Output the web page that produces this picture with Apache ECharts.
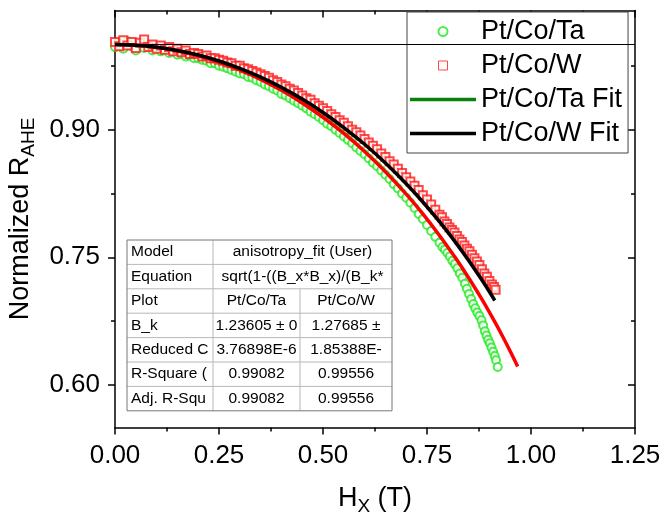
<!DOCTYPE html>
<html><head><meta charset="utf-8">
<script src="https://cdn.jsdelivr.net/npm/echarts@6/dist/echarts.min.js"></script>
<style>html,body{margin:0;padding:0;background:#fff}#c{width:664px;height:517px}</style>
</head><body><div id="c"></div>
<script>
const FONT = '"Liberation Sans", Arial, sans-serif';

const seriesNames = ['Pt/Co/Ta', 'Pt/Co/W', 'Pt/Co/Ta Fit', 'Pt/Co/W Fit'];

const taX = [0.00,0.01,0.02,0.03,0.04,0.05,0.06,0.07,0.08,0.09,0.10,0.11,0.12,0.13,0.14,0.15,0.16,0.17,0.18,0.19,0.20,0.21,0.22,0.23,0.24,0.25,0.26,0.27,0.28,0.29,0.30,0.31,0.32,0.33,0.34,0.35,0.36,0.37,0.38,0.39,0.40,0.41,0.42,0.43,0.44,0.45,0.46,0.47,0.48,0.49,0.50,0.51,0.52,0.53,0.54,0.55,0.56,0.57,0.58,0.59,0.60,0.61,0.62,0.63,0.64,0.65,0.66,0.67,0.68,0.69,0.70,0.71,0.72,0.73,0.74,0.75,0.76,0.77,0.78,0.787,0.793,0.799,0.805,0.811,0.817,0.823,0.829,0.835,0.841,0.846,0.851,0.856,0.861,0.866,0.871,0.876,0.881,0.885,0.889,0.893,0.897,0.901,0.905,0.909,0.913,0.916,0.920];
const taY = [0.997,1.002,0.995,1.004,0.998,0.993,1.001,0.996,0.999,0.993,0.996,0.992,0.994,0.990,0.992,0.988,0.989,0.986,0.987,0.984,0.984,0.982,0.981,0.978,0.978,0.975,0.974,0.972,0.970,0.968,0.966,0.965,0.962,0.961,0.958,0.956,0.953,0.951,0.948,0.946,0.942,0.940,0.937,0.934,0.931,0.928,0.925,0.921,0.918,0.915,0.911,0.907,0.904,0.900,0.896,0.892,0.888,0.884,0.879,0.875,0.871,0.866,0.861,0.857,0.852,0.847,0.842,0.836,0.831,0.825,0.820,0.814,0.808,0.801,0.795,0.788,0.781,0.774,0.767,0.762,0.759,0.755,0.751,0.746,0.742,0.737,0.731,0.726,0.719,0.713,0.707,0.701,0.695,0.690,0.685,0.681,0.676,0.670,0.663,0.658,0.653,0.649,0.644,0.639,0.634,0.629,0.621];

const wX = [0.00,0.01,0.02,0.03,0.04,0.05,0.06,0.07,0.08,0.09,0.10,0.11,0.12,0.13,0.14,0.15,0.16,0.17,0.18,0.19,0.20,0.21,0.22,0.23,0.24,0.25,0.26,0.27,0.28,0.29,0.30,0.31,0.32,0.33,0.34,0.35,0.36,0.37,0.38,0.39,0.40,0.41,0.42,0.43,0.44,0.45,0.46,0.47,0.48,0.49,0.50,0.51,0.52,0.53,0.54,0.55,0.56,0.57,0.58,0.59,0.60,0.61,0.62,0.63,0.64,0.65,0.66,0.67,0.68,0.69,0.70,0.71,0.72,0.73,0.74,0.75,0.76,0.77,0.78,0.786,0.792,0.798,0.804,0.810,0.816,0.822,0.828,0.834,0.840,0.846,0.852,0.858,0.864,0.870,0.876,0.882,0.888,0.894,0.900,0.906,0.911,0.915];
const wY = [1.003,0.998,1.005,0.999,1.003,0.996,1.002,1.006,0.997,1.000,0.995,0.999,0.994,0.997,0.992,0.995,0.991,0.993,0.989,0.990,0.989,0.986,0.987,0.984,0.984,0.982,0.981,0.979,0.978,0.975,0.975,0.972,0.971,0.969,0.967,0.965,0.963,0.961,0.958,0.956,0.953,0.951,0.948,0.946,0.943,0.940,0.937,0.935,0.931,0.928,0.925,0.922,0.918,0.915,0.911,0.908,0.904,0.900,0.897,0.893,0.889,0.885,0.881,0.877,0.872,0.868,0.863,0.859,0.854,0.849,0.844,0.839,0.834,0.829,0.823,0.818,0.812,0.806,0.800,0.797,0.792,0.789,0.785,0.782,0.779,0.775,0.771,0.768,0.764,0.760,0.757,0.753,0.749,0.745,0.741,0.736,0.731,0.727,0.722,0.718,0.715,0.712];

const taFitX = [0,0.05,0.10,0.15,0.20,0.25,0.30,0.35,0.40,0.45,0.50,0.55,0.60,0.65,0.70,0.74,0.78,0.82,0.85,0.88,0.91,0.93,0.95,0.968];
const taFitY = [1.000,0.9992,0.9967,0.9926,0.9868,0.9793,0.9701,0.9591,0.9462,0.9314,0.9145,0.8955,0.8743,0.8506,0.8242,0.8010,0.7757,0.7482,0.7260,0.7022,0.6767,0.6587,0.6397,0.6218];

const wFitX = [0,0.05,0.10,0.15,0.20,0.25,0.30,0.35,0.40,0.45,0.50,0.55,0.60,0.65,0.70,0.74,0.78,0.82,0.85,0.88,0.90,0.913];
const wFitY = [1.000,0.9992,0.9969,0.9931,0.9877,0.9807,0.9720,0.9617,0.9497,0.9359,0.9202,0.9025,0.8828,0.8608,0.8364,0.8150,0.7918,0.7666,0.7463,0.7247,0.7095,0.6992];

const refLineY = 1.0;

const xTicks = [0, 1.25, 0.25];           // min, max, interval
const yRange = [0.55, 1.04];
const yMajor = [0.60, 0.75, 0.90];
const yMinor = [0.675, 0.825, 0.975];

const tableRows = [
  ['Model', 'anisotropy_fit (User)'],
  ['Equation', 'sqrt(1-((B_x*B_x)/(B_k*'],
  ['Plot', 'Pt/Co/Ta', 'Pt/Co/W'],
  ['B_k', '1.23605 \u00b1 0', '1.27685 \u00b1'],
  ['Reduced C', '3.76898E-6', '1.85388E-'],
  ['R-Square (', '0.99082', '0.99556'],
  ['Adj. R-Squ', '0.99082', '0.99556']
];

const zip = (xs, ys) => xs.map((x, i) => [x, ys[i]]);

// table graphic
const T = {top: 240, rowH: 24.4, cols: [127, 213, 300, 392]};
const tchildren = [];
const tW = T.cols[3] - T.cols[0], tH = T.rowH * tableRows.length;
const tFont = '15.5px ' + FONT;
tchildren.push({type: 'rect', shape: {x: T.cols[0], y: T.top, width: tW, height: tH}, style: {fill: '#fff', stroke: 'none'}});
for (let r = 1; r < tableRows.length; r++) {
  tchildren.push({type: 'line', shape: {x1: T.cols[0], y1: T.top + r * T.rowH, x2: T.cols[3], y2: T.top + r * T.rowH}, style: {stroke: '#b8b8b8', lineWidth: 1}});
}
tchildren.push({type: 'line', shape: {x1: T.cols[1], y1: T.top, x2: T.cols[1], y2: T.top + tH}, style: {stroke: '#b8b8b8', lineWidth: 1}});
tchildren.push({type: 'line', shape: {x1: T.cols[2], y1: T.top + 2 * T.rowH, x2: T.cols[2], y2: T.top + tH}, style: {stroke: '#b8b8b8', lineWidth: 1}});
tchildren.push({type: 'rect', shape: {x: T.cols[0], y: T.top, width: tW, height: tH}, style: {fill: 'none', stroke: '#777', lineWidth: 1}});
const txt = (x, y, s, al) => ({type: 'text', x: x, y: y, style: {text: s, font: tFont, fill: '#000', align: al, verticalAlign: 'middle', textAlign: al, textVerticalAlign: 'middle'}});
tableRows.forEach((row, r) => {
  const cy = T.top + (r + 0.5) * T.rowH;
  tchildren.push(txt(T.cols[0] + 4, cy, row[0], 'left'));
  if (row.length === 2) {
    tchildren.push(txt((T.cols[1] + T.cols[3]) / 2, cy, row[1], 'center'));
  } else {
    tchildren.push(txt((T.cols[1] + T.cols[2]) / 2, cy, row[1], 'center'));
    tchildren.push(txt((T.cols[2] + T.cols[3]) / 2, cy, row[2], 'center'));
  }
});

const axisLineStyle = {color: '#000', width: 1.5};
const tickStyle = {color: '#000', width: 1.5};
const titleRich = {
  a: {fontSize: 27, lineHeight: 27, color: '#000', fontFamily: FONT},
  s: {fontSize: 19, lineHeight: 19, padding: [16, 0, 0, 0], color: '#000', fontFamily: FONT}
};

const chart = echarts.init(document.getElementById('c'), null, {renderer: 'canvas'});
chart.setOption({
  animation: false,
  backgroundColor: '#fff',
  textStyle: {fontFamily: FONT},
  grid: {left: 115, right: 29, top: 10.5, bottom: 89.5, containLabel: false, outerBoundsMode: 'none'},
  xAxis: [
    {type: 'value', position: 'bottom', min: xTicks[0], max: xTicks[1], interval: xTicks[2],
     axisLine: {show: true, lineStyle: axisLineStyle},
     axisTick: {show: true, inside: false, length: 7, lineStyle: tickStyle},
     minorTick: {show: true, splitNumber: 2, length: 4, lineStyle: tickStyle},
     axisLabel: {show: true, margin: 15, fontSize: 26, color: '#000', fontFamily: FONT, formatter: v => v.toFixed(2)},
     splitLine: {show: false}, minorSplitLine: {show: false},
     name: '{a|H}{s|X}{a| (T)}', nameLocation: 'middle', nameGap: 58,
     nameTextStyle: {color: '#000', fontFamily: FONT, rich: titleRich}},
    {type: 'value', position: 'top', min: xTicks[0], max: xTicks[1], interval: xTicks[2],
     axisLine: {show: true, lineStyle: axisLineStyle},
     axisTick: {show: true, inside: true, length: 7, lineStyle: tickStyle},
     minorTick: {show: true, splitNumber: 2, length: 4, lineStyle: tickStyle},
     axisLabel: {show: false}, splitLine: {show: false}}
  ],
  yAxis: [
    {type: 'value', position: 'left', min: yRange[0], max: yRange[1],
     axisLine: {show: true, lineStyle: axisLineStyle},
     axisTick: {show: true, inside: false, length: 7, lineStyle: tickStyle, customValues: yMajor},
     axisLabel: {show: true, margin: 15, fontSize: 26, color: '#000', fontFamily: FONT, customValues: yMajor, formatter: v => v.toFixed(2)},
     splitLine: {show: false},
     name: '{a|Normalized R}{s|AHE}', nameLocation: 'middle', nameGap: 74, nameRotate: 90,
     nameTextStyle: {color: '#000', fontFamily: FONT, rich: titleRich}},
    {type: 'value', position: 'left', min: yRange[0], max: yRange[1],
     axisLine: {show: false},
     axisTick: {show: true, inside: false, length: 4, lineStyle: tickStyle, customValues: yMinor},
     axisLabel: {show: false}, splitLine: {show: false}},
    {type: 'value', position: 'right', min: yRange[0], max: yRange[1],
     axisLine: {show: true, lineStyle: axisLineStyle},
     axisTick: {show: true, inside: true, length: 7, lineStyle: tickStyle, customValues: yMajor},
     axisLabel: {show: false}, splitLine: {show: false}},
    {type: 'value', position: 'right', min: yRange[0], max: yRange[1],
     axisLine: {show: false},
     axisTick: {show: true, inside: true, length: 4, lineStyle: tickStyle, customValues: yMinor},
     axisLabel: {show: false}, splitLine: {show: false}}
  ],
  legend: {
    orient: 'vertical', left: 407, top: 12, padding: [6, 6, 6, 3],
    itemWidth: 66, itemHeight: 9, itemGap: 7, symbolKeepAspect: true,
    backgroundColor: '#fff', borderColor: '#444', borderWidth: 1, borderRadius: 0,
    textStyle: {fontSize: 27, lineHeight: 27, color: '#000', fontFamily: FONT},
    data: [
      {name: seriesNames[0]},
      {name: seriesNames[1], icon: 'path://M0,0H8V8H0Z', itemStyle: {color: '#fff', borderColor: '#ff1a1a', borderWidth: 1}},
      {name: seriesNames[2], icon: 'path://M0,0H66V3.5H0Z', itemStyle: {color: '#0a800a', borderWidth: 0}},
      {name: seriesNames[3], icon: 'path://M0,0H66V3.5H0Z', itemStyle: {color: '#000', borderWidth: 0}}
    ]
  },
  graphic: [{type: 'group', z: 100, children: tchildren}],
  series: [
    {name: seriesNames[0], type: 'scatter', xAxisIndex: 0, yAxisIndex: 0, data: zip(taX, taY),
     symbol: 'emptyCircle', symbolSize: 8, itemStyle: {color: '#22e822', borderColor: '#22e822', borderWidth: 1},
     markLine: {silent: true, symbol: 'none', label: {show: false}, lineStyle: {color: '#000', width: 1, type: 'solid'}, data: [{yAxis: refLineY}]}},
    {name: seriesNames[1], type: 'scatter', xAxisIndex: 0, yAxisIndex: 0, data: zip(wX, wY),
     symbol: 'emptyRect', symbolSize: 8, itemStyle: {color: '#ff1a1a', borderColor: '#ff1a1a', borderWidth: 1.2}},
    {name: seriesNames[2], type: 'line', xAxisIndex: 0, yAxisIndex: 0, data: zip(taFitX, taFitY),
     smooth: 0.3, symbol: 'none', showSymbol: false, itemStyle: {color: '#ff0000'}, lineStyle: {color: '#ff0000', width: 3.5}},
    {name: seriesNames[3], type: 'line', xAxisIndex: 0, yAxisIndex: 0, data: zip(wFitX, wFitY),
     smooth: 0.3, symbol: 'none', showSymbol: false, itemStyle: {color: '#000'}, lineStyle: {color: '#000', width: 3.5}}
  ]
});
</script>
</body></html>
